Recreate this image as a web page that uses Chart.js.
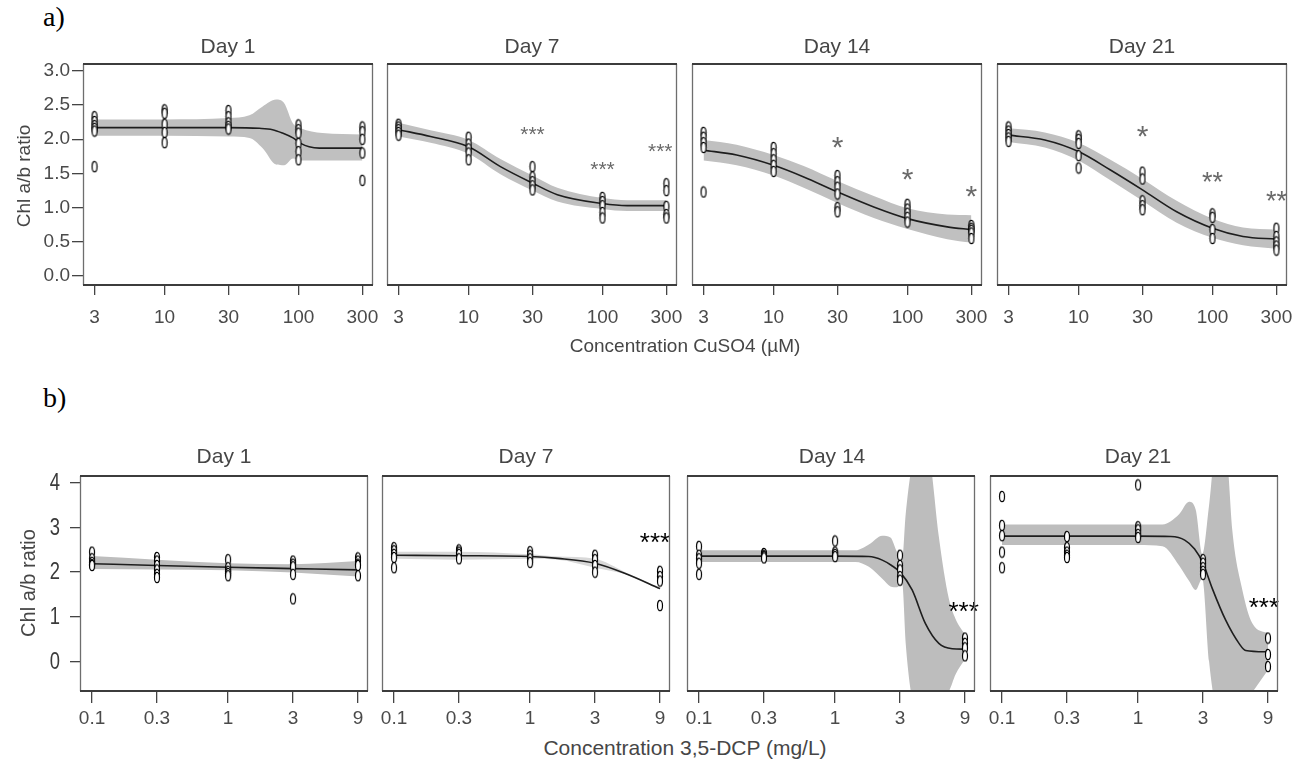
<!DOCTYPE html>
<html>
<head>
<meta charset="utf-8">
<script src="https://cdn.jsdelivr.net/npm/chart.js@4.4.1/dist/chart.umd.min.js"></script>
<style>
  html, body { margin: 0; padding: 0; background: #fff; }
  #fig { position: relative; width: 1308px; height: 763px; overflow: hidden; background: #fff; }
  #fig canvas { position: absolute; }
  .txt { position: absolute; white-space: nowrap; line-height: 1; font-family: "Liberation Sans", Arial, sans-serif; color: #464646; transform: translate(-50%, -50%); z-index: 2; }
  .tag { position: absolute; line-height: 1; font-family: "Liberation Serif", "Times New Roman", serif; color: #000; z-index: 2; }
</style>
</head>
<body>
<div id="fig"></div>
<script>
// ---------- concentrations and axis ticks ----------
const concCu = [3, 10, 30, 100, 300];
const concDcp = [0.1, 0.3, 1, 3, 9];
const yTicksCu = [0, 0.5, 1, 1.5, 2, 2.5, 3];
const yTicksDcp = [0, 1, 2, 3, 4];
const dayNames = ['Day 1', 'Day 7', 'Day 14', 'Day 21'];

// ---------- a) CuSO4: replicate Chl a/b ratios per concentration ----------
const cuDay1Obs = [[2.33, 2.26, 2.2, 2.16, 2.12, 1.6], [2.43, 2.38, 2.22, 2.1, 1.95], [2.42, 2.33, 2.24, 2.19, 2.15], [2.21, 2.14, 2.09, 1.94, 1.82, 1.7], [2.18, 2.11, 2.0, 1.8, 1.4]];
const cuDay7Obs = [[2.22, 2.18, 2.14, 2.1, 2.06], [2.03, 1.93, 1.86, 1.8, 1.7], [1.6, 1.45, 1.38, 1.32, 1.26], [1.15, 1.09, 1.03, 0.93, 0.85], [1.35, 1.25, 1.02, 0.9, 0.85]];
const cuDay14Obs = [[2.1, 2.03, 1.95, 1.88, 1.23], [1.88, 1.79, 1.7, 1.62, 1.53], [1.47, 1.38, 1.3, 1.2, 1.0, 0.94], [1.05, 0.98, 0.92, 0.86, 0.79], [0.74, 0.7, 0.67, 0.63, 0.55]];
const cuDay21Obs = [[2.18, 2.12, 2.07, 2.02, 1.97], [2.05, 2.0, 1.94, 1.76, 1.58], [1.52, 1.42, 1.1, 1.03, 0.97], [0.91, 0.86, 0.68, 0.55], [0.7, 0.58, 0.5, 0.44, 0.38]];

// fitted dose-response curves
const cuDay1FitX = [3, 10, 30, 51, 64, 76, 91, 104, 120, 143, 300];
const cuDay1Fit  = [2.17, 2.17, 2.17, 2.16, 2.14, 2.09, 2.02, 1.94, 1.89, 1.87, 1.87];
const cuDay7FitX = [3, 5.2, 10, 17.3, 30, 46, 100, 153, 300];
const cuDay7Fit  = [2.14, 2.04, 1.89, 1.6, 1.36, 1.19, 1.06, 1.03, 1.03];
const cuDay14FitX = [3, 5.3, 10, 16.8, 30, 56, 100, 198, 300];
const cuDay14Fit  = [1.84, 1.77, 1.62, 1.45, 1.23, 1.01, 0.84, 0.72, 0.68];
const cuDay21FitX = [3, 5.6, 10, 17.3, 30, 54, 100, 169, 300];
const cuDay21Fit  = [2.06, 1.99, 1.82, 1.55, 1.26, 0.94, 0.7, 0.58, 0.54];

// confidence bands
const cuDay1BandX = [3, 10, 30, 43, 54, 68, 78, 91, 104, 151, 300];
const cuDay1Hi = [2.29, 2.29, 2.31, 2.35, 2.48, 2.58, 2.53, 2.23, 2.16, 2.09, 2.07];
const cuDay1Lo = [2.05, 2.05, 2.04, 2.02, 1.87, 1.63, 1.62, 1.72, 1.69, 1.69, 1.69];
const cuDay7Hi = [2.24, 2.13, 1.99, 1.71, 1.47, 1.29, 1.14, 1.11, 1.11];
const cuDay7Lo = [2.04, 1.95, 1.79, 1.49, 1.25, 1.09, 0.98, 0.95, 0.95];
const cuDay14Hi = [1.99, 1.92, 1.77, 1.61, 1.39, 1.17, 0.99, 0.9, 0.89];
const cuDay14Lo = [1.69, 1.62, 1.47, 1.29, 1.07, 0.85, 0.69, 0.54, 0.49];
const cuDay21Hi = [2.16, 2.1, 1.95, 1.7, 1.42, 1.1, 0.84, 0.71, 0.68];
const cuDay21Lo = [1.96, 1.88, 1.69, 1.4, 1.1, 0.78, 0.56, 0.45, 0.4];

// significance marks
const cuDay7StarX = [30, 100, 270],  cuDay7StarY = [2.15, 1.64, 1.9],  cuDay7StarText = ['***', '***', '***'];
const cuDay14StarX = [30, 100, 300], cuDay14StarY = [1.99, 1.53, 1.28], cuDay14StarText = ['*', '*', '*'];
const cuDay21StarX = [30, 100, 300], cuDay21StarY = [2.15, 1.48, 1.2],  cuDay21StarText = ['*', '**', '**'];

// ---------- b) 3,5-DCP ----------
const dcpDay1Obs = [[2.45, 2.3, 2.22, 2.17, 2.15], [2.33, 2.25, 2.15, 2.05, 1.95, 1.88], [2.28, 2.1, 2.02, 1.97, 1.92], [2.25, 2.18, 2.12, 1.95, 1.4], [2.32, 2.25, 2.18, 2.15, 1.92]];
const dcpDay7Obs = [[2.55, 2.48, 2.4, 2.33, 2.1], [2.5, 2.45, 2.4, 2.3], [2.46, 2.38, 2.3, 2.22], [2.38, 2.28, 2.15, 2.0], [2.02, 1.9, 1.8, 1.25]];
const dcpDay14Obs = [[2.58, 2.38, 2.3, 2.2, 1.95], [2.42, 2.38, 2.35, 2.32], [2.7, 2.45, 2.4, 2.35], [2.38, 2.15, 2.05, 1.9, 1.82], [0.52, 0.4, 0.3, 0.12]];
const dcpDay21Obs = [[3.7, 3.05, 2.82, 2.45, 2.1], [2.8, 2.55, 2.45, 2.38, 2.33], [3.96, 3.02, 2.95, 2.85, 2.78], [2.28, 2.2, 2.1, 2.02, 1.95], [0.52, 0.15, -0.12]];

const dcpDay1FitX = [0.1, 0.3, 1, 3, 9];
const dcpDay1Fit  = [2.19, 2.15, 2.11, 2.08, 2.05];
const dcpDay7FitX = [0.1, 0.3, 1, 1.6, 3, 5, 9];
const dcpDay7Fit  = [2.38, 2.37, 2.35, 2.31, 2.2, 1.97, 1.63];
const dcpDay14FitX = [0.1, 1, 1.77, 2.22, 2.6, 3, 3.68, 4.6, 5.78, 7.25, 9];
const dcpDay14Fit  = [2.36, 2.36, 2.35, 2.27, 2.15, 2.0, 1.6, 0.85, 0.4, 0.28, 0.27];
const dcpDay21FitX = [0.1, 1, 1.74, 2.2, 2.6, 3, 3.51, 4.4, 5.51, 6.17, 9];
const dcpDay21Fit  = [2.81, 2.81, 2.8, 2.72, 2.52, 2.2, 1.63, 0.92, 0.4, 0.24, 0.21];

const dcpDay1Hi = [2.36, 2.28, 2.2, 2.18, 2.25];
const dcpDay1Lo = [2.07, 2.06, 2.04, 1.99, 1.9];
const dcpDay7Hi = [2.46, 2.46, 2.4, 2.35, 2.3, 2.0, 1.65];
const dcpDay7Lo = [2.3, 2.28, 2.3, 2.28, 2.1, 1.95, 1.61];
const dcpDay14BandX = [0.1, 1, 1.41, 1.77, 2.22, 2.55, 2.85, 3.11, 3.3, 3.75, 4.4, 5.1, 5.78, 6.85, 7.67, 9];
const dcpDay14Hi = [2.49, 2.49, 2.49, 2.62, 2.82, 2.78, 2.45, 2.25, 3.3, 4.6, 5.5, 4.3, 2.8, 1.4, 0.95, 0.6];
const dcpDay14Lo = [2.23, 2.23, 2.23, 2.12, 1.85, 1.68, 1.66, 1.75, 0.4, -1.0, -1.5, -1.2, -0.9, -0.68, -0.3, 0.05];
const dcpDay21BandX = [0.1, 1, 1.51, 2.0, 2.37, 2.65, 2.96, 3.32, 3.93, 4.53, 4.92, 5.83, 6.9, 9];
const dcpDay21Hi = [3.07, 3.07, 3.07, 3.3, 3.58, 3.4, 2.4, 3.5, 5.5, 4.5, 2.94, 1.6, 0.85, 0.62];
const dcpDay21Lo = [2.61, 2.61, 2.58, 2.15, 1.8, 1.6, 1.85, 0.0, -1.5, -2.0, -1.5, -1.0, -0.7, -0.2];

const dcpDay7StarX = [8.27], dcpDay7StarY = [2.81], dcpDay7StarText = ['***'];
const dcpDay14StarX = [8.8], dcpDay14StarY = [1.26], dcpDay14StarText = ['***'];
const dcpDay21StarX = [8.4], dcpDay21StarY = [1.36], dcpDay21StarText = ['***'];

// ---------- drawing ----------
const fig = document.getElementById('fig');
const SANS = '"Liberation Sans", Arial, sans-serif';

// open vertical ellipse used as the replicate marker
const ringMarker = (() => {
  const c = document.createElement('canvas');
  c.width = 8; c.height = 13;
  const g = c.getContext('2d');
  g.beginPath();
  g.ellipse(4, 6.5, 2.5, 5.2, 0, 0, Math.PI * 2);
  g.fillStyle = '#fff';
  g.fill();
  g.lineWidth = 1.2;
  g.strokeStyle = '#000';
  g.stroke();
  return c;
})();

const pairs = (xs, ys) => xs.map((x, i) => ({ x, y: ys[i] }));

function addText(text, x, y, size, extra) {
  const d = document.createElement('div');
  d.className = 'txt';
  d.textContent = text;
  d.style.left = x + 'px';
  d.style.top = y + 'px';
  d.style.fontSize = size + 'px';
  if (extra) Object.assign(d.style, extra);
  fig.appendChild(d);
}

function addPanel(p) {
  const yW = p.showY ? p.yAxisW : 0;
  const padL = p.showY ? 0 : 12, padR = 24, padT = 32;
  const cw = padL + yW + p.boxW + padR;
  const ch = padT + p.boxH + p.xAxisH;
  const cv = document.createElement('canvas');
  cv.width = cw; cv.height = ch;
  cv.style.width = cw + 'px'; cv.style.height = ch + 'px';
  cv.style.left = (p.boxL - yW - padL) + 'px';
  cv.style.top = (p.boxT - padT) + 'px';
  fig.appendChild(cv);

  const pts = [];
  p.obs.forEach((reps, i) => reps.forEach(v => pts.push({ x: p.conc[i], y: v })));

  const frame = {
    id: 'panelFrame',
    afterDatasetsDraw(chart) {
      const { ctx, scales } = chart;
      // significance marks
      ctx.save();
      ctx.fillStyle = p.starColor;
      ctx.textAlign = 'center';
      ctx.textBaseline = 'alphabetic';
      (p.starX || []).forEach((sx, i) => {
        const size = p.starSize[i];
        ctx.font = size + 'px ' + SANS;
        ctx.fillText(p.starText[i], scales.x.getPixelForValue(sx), scales.y.getPixelForValue(p.starY[i]) + 0.58 * size);
      });
      ctx.restore();
    },
    afterDraw(chart) {
      const { ctx, chartArea: a, scales } = chart;
      // condensed y tick labels
      if (p.showY && p.narrowY) {
        ctx.save();
        ctx.fillStyle = '#3a3a3a';
        ctx.font = p.yFont + 'px ' + SANS;
        ctx.textAlign = 'right';
        ctx.textBaseline = 'middle';
        p.yTicks.forEach(v => {
          ctx.save();
          ctx.translate(a.left - p.yTick - p.yPad, scales.y.getPixelForValue(v) + 1);
          ctx.scale(0.8, 1.0);
          ctx.fillText(p.yFmt(v), 0, 0);
          ctx.restore();
        });
        ctx.restore();
      }
      // panel frame
      const L = Math.round(a.left) + 0.5, R = Math.round(a.right) - 0.5;
      const T = Math.round(a.top), B = Math.round(a.bottom);
      ctx.save();
      ctx.strokeStyle = '#6e6e6e';
      ctx.lineWidth = 1.3;
      ctx.beginPath();
      ctx.moveTo(L, T); ctx.lineTo(L, B);
      ctx.moveTo(R, T); ctx.lineTo(R, B);
      ctx.stroke();
      ctx.strokeStyle = '#3c3c3c';
      ctx.lineWidth = 2;
      ctx.beginPath();
      ctx.moveTo(L - 0.5, T); ctx.lineTo(R + 0.5, T);
      ctx.moveTo(L - 0.5, B); ctx.lineTo(R + 0.5, B);
      ctx.stroke();
      ctx.restore();
    }
  };

  new Chart(cv.getContext('2d'), {
    type: 'scatter',
    data: {
      datasets: [
        { data: pairs(p.bandX, p.hi), showLine: true, borderWidth: 0, borderColor: 'rgba(0,0,0,0)', pointRadius: 0, fill: false, order: 3, cubicInterpolationMode: 'monotone' },
        { data: pairs(p.bandX, p.lo), showLine: true, borderWidth: 0, borderColor: 'rgba(0,0,0,0)', pointRadius: 0, fill: '-1', backgroundColor: p.bandColor, order: 3, cubicInterpolationMode: 'monotone' },
        { data: pairs(p.fitX, p.fit), showLine: true, borderColor: '#1e1e1e', borderWidth: 1.6, pointRadius: 0, fill: false, order: 1, cubicInterpolationMode: 'monotone' },
        { data: pts, showLine: false, pointStyle: ringMarker, pointRadius: 5, order: 0 }
      ]
    },
    options: {
      responsive: false,
      animation: false,
      devicePixelRatio: 1,
      events: [],
      layout: { padding: { left: padL, right: padR, top: padT, bottom: 0 } },
      plugins: { legend: { display: false }, tooltip: { enabled: false }, title: { display: false } },
      scales: {
        x: {
          type: 'logarithmic',
          min: p.xMin, max: p.xMax,
          afterBuildTicks: s => { s.ticks = p.conc.map(v => ({ value: v })); },
          afterFit: s => { s.height = p.xAxisH; },
          ticks: { autoSkip: false, maxRotation: 0, minRotation: 0, callback: v => String(v), color: '#4a4a4a', font: { family: SANS, size: p.xFont }, padding: p.xPad },
          grid: { drawOnChartArea: false, drawTicks: true, tickLength: p.xTick, color: '#444', lineWidth: 1.3 },
          border: { display: false }
        },
        y: {
          type: 'linear',
          display: !!p.showY,
          min: p.yMin, max: p.yMax,
          afterBuildTicks: s => { s.ticks = p.yTicks.map(v => ({ value: v })); },
          afterFit: s => { s.width = yW; },
          ticks: { display: !p.narrowY, autoSkip: false, callback: p.yFmt, color: '#4a4a4a', font: { family: SANS, size: p.yFont }, padding: p.yPad },
          grid: { drawOnChartArea: false, drawTicks: true, tickLength: p.yTick, color: '#444', lineWidth: 1.3 },
          border: { display: false }
        }
      }
    },
    plugins: [frame]
  });
}

// ---------- a) CuSO4 row ----------
const rowA = {
  boxT: 64, boxH: 221, boxW: 290, xAxisH: 50, yAxisW: 50,
  xMin: 2.46, xMax: 360, yMin: -0.13, yMax: 3.1,
  conc: concCu, yTicks: yTicksCu, yFmt: v => v.toFixed(1),
  xFont: 19, xPad: 11, xTick: 10, yFont: 19, yPad: 2, yTick: 11, narrowY: false,
  bandColor: '#c0c0c0', starColor: '#6a6a6a'
};
const aLefts = [83, 387, 692, 997];
const aPanels = [
  { obs: cuDay1Obs, fitX: cuDay1FitX, fit: cuDay1Fit, bandX: cuDay1BandX, hi: cuDay1Hi, lo: cuDay1Lo, showY: true },
  { obs: cuDay7Obs, fitX: cuDay7FitX, fit: cuDay7Fit, bandX: cuDay7FitX, hi: cuDay7Hi, lo: cuDay7Lo,
    starX: cuDay7StarX, starY: cuDay7StarY, starText: cuDay7StarText, starSize: [21, 21, 21] },
  { obs: cuDay14Obs, fitX: cuDay14FitX, fit: cuDay14Fit, bandX: cuDay14FitX, hi: cuDay14Hi, lo: cuDay14Lo,
    starX: cuDay14StarX, starY: cuDay14StarY, starText: cuDay14StarText, starSize: [30, 30, 30] },
  { obs: cuDay21Obs, fitX: cuDay21FitX, fit: cuDay21Fit, bandX: cuDay21FitX, hi: cuDay21Hi, lo: cuDay21Lo,
    starX: cuDay21StarX, starY: cuDay21StarY, starText: cuDay21StarText, starSize: [30, 27, 27] }
];
aPanels.forEach((pp, i) => addPanel(Object.assign({}, rowA, pp, { boxL: aLefts[i] })));

// ---------- b) 3,5-DCP row ----------
const rowB = {
  boxT: 476, boxH: 215, boxW: 288, xAxisH: 44, yAxisW: 40,
  xMin: 0.0816, xMax: 10.66, yMin: -0.67, yMax: 4.16,
  conc: concDcp, yTicks: yTicksDcp, yFmt: v => String(v),
  xFont: 19, xPad: 4, xTick: 12, yFont: 23, yPad: 10, yTick: 10, narrowY: true,
  bandColor: '#bdbdbd', starColor: '#000'
};
const bLefts = [80, 382, 687, 990];
const bPanels = [
  { obs: dcpDay1Obs, fitX: dcpDay1FitX, fit: dcpDay1Fit, bandX: dcpDay1FitX, hi: dcpDay1Hi, lo: dcpDay1Lo, showY: true },
  { obs: dcpDay7Obs, fitX: dcpDay7FitX, fit: dcpDay7Fit, bandX: dcpDay7FitX, hi: dcpDay7Hi, lo: dcpDay7Lo, bandColor: '#d8d8d8',
    starX: dcpDay7StarX, starY: dcpDay7StarY, starText: dcpDay7StarText, starSize: [26] },
  { obs: dcpDay14Obs, fitX: dcpDay14FitX, fit: dcpDay14Fit, bandX: dcpDay14BandX, hi: dcpDay14Hi, lo: dcpDay14Lo,
    starX: dcpDay14StarX, starY: dcpDay14StarY, starText: dcpDay14StarText, starSize: [26] },
  { obs: dcpDay21Obs, fitX: dcpDay21FitX, fit: dcpDay21Fit, bandX: dcpDay21BandX, hi: dcpDay21Hi, lo: dcpDay21Lo,
    starX: dcpDay21StarX, starY: dcpDay21StarY, starText: dcpDay21StarText, starSize: [26] }
];
bPanels.forEach((pp, i) => addPanel(Object.assign({}, rowB, pp, { boxL: bLefts[i] })));

// ---------- titles and axis labels ----------
const tagA = document.createElement('div');
tagA.className = 'tag'; tagA.textContent = 'a)';
Object.assign(tagA.style, { left: '43px', top: '3px', fontSize: '28px' });
fig.appendChild(tagA);
const tagB = document.createElement('div');
tagB.className = 'tag'; tagB.textContent = 'b)';
Object.assign(tagB.style, { left: '43px', top: '384px', fontSize: '28px' });
fig.appendChild(tagB);

const aTitleX = [228, 532, 837, 1142];
const bTitleX = [224, 526, 832, 1138];
dayNames.forEach((d, i) => addText(d, aTitleX[i], 45, 21));
dayNames.forEach((d, i) => addText(d, bTitleX[i], 455, 21));

addText('Chl a/b ratio', 23, 176, 19, { transform: 'translate(-50%, -50%) rotate(-90deg)' });
addText('Chl a/b ratio', 28, 583, 20, { transform: 'translate(-50%, -50%) rotate(-90deg)' });
addText('Concentration CuSO4 (\u00b5M)', 685, 345, 19);
addText('Concentration 3,5-DCP (mg/L)', 685, 747, 21);
</script>
</body>
</html>
